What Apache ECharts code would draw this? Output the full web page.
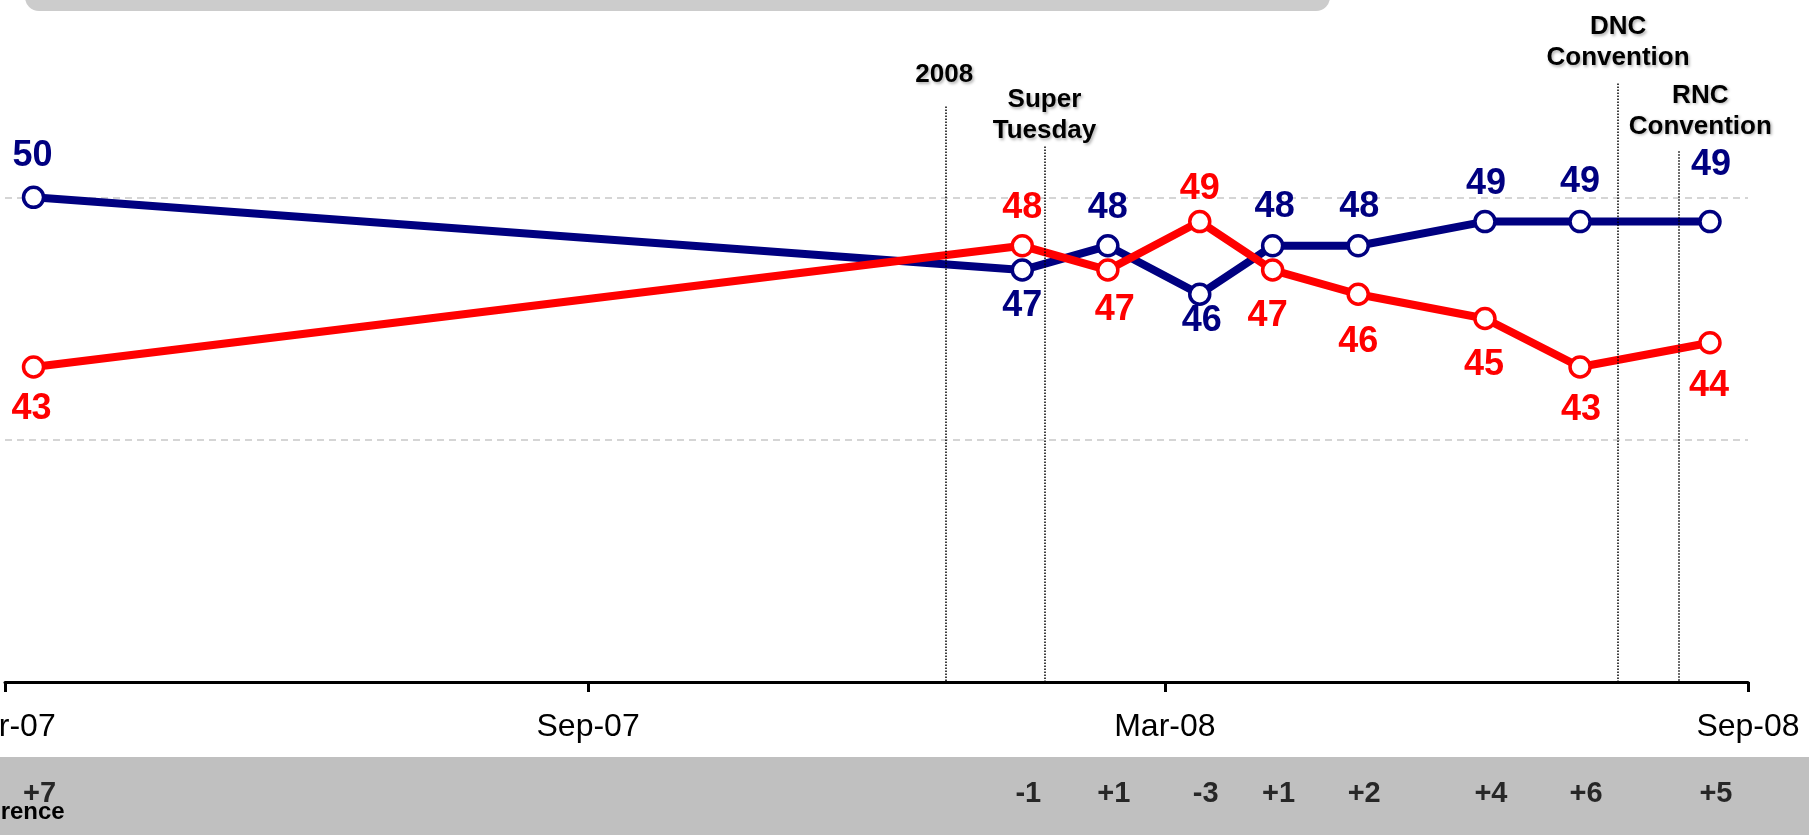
<!DOCTYPE html>
<html>
<head>
<meta charset="utf-8">
<script src="https://cdn.jsdelivr.net/npm/echarts@6/dist/echarts.min.js"></script>
<style>
html,body{margin:0;padding:0;background:#fff;}
#main{width:1809px;height:835px;}
</style>
</head>
<body>
<div id="main"></div>
<script>
// poll dates and the two shares (blue / red)
var pollDates = ['2007-03-10','2008-01-16','2008-02-12','2008-03-12','2008-04-04','2008-05-01','2008-06-10','2008-07-10','2008-08-20'];
var blueValues = [50,47,48,46,48,48,49,49,49];
var redValues = [43,48,47,49,47,46,45,43,44];

// x axis ticks
var tickDates = ['2007-03-01','2007-09-01','2008-03-01','2008-09-01'];
var tickLabels = ['Mar-07','Sep-07','Mar-08','Sep-08'];

// event markers
var eventDates = ['2007-12-23','2008-01-23','2008-07-22','2008-08-10'];
var eventNames = ['2008','Super\nTuesday','DNC\nConvention','RNC\nConvention'];

var FONT = '"Liberation Sans", Arial, sans-serif';

function ts(s){
	var p = s.split('-');
	return new Date(+p[0], p[1]-1, +p[2]).getTime();
}

var tickTimes = tickDates.map(ts);
var axisMin = tickTimes[0],
	axisMax = tickTimes[tickTimes.length-1];

// label placement around each point (px from the marker centre)
var blueNudge = [[-1,-41],[0,36],[0,-38],[2,27],[2,-39],[1,-39],[1,-37],[0,-39],[1,-56]];
var redNudge = [[-2,42],[0,-38],[7,40],[0,-32],[-5,46],[0,48],[-1,47],[1,43],[-1,43]];

// where each dotted event line starts (y value) and its label gap
var eventTop = [53.75, 52.1, 54.7, 51.9];
var eventGap = [16, 0, 10, 9];
var eventPad = [[0,4,0,0],[0,0,0,0],[0,0,0,0],[0,0,0,44]];

function seriesData(values, nudge){
	return pollDates.map(function(d, i){
		return {value: [ts(d), values[i]], label: {offset: nudge[i]}};
	});
}

function lineSeries(name, values, color, nudge){
	return {
		name: name,
		type: 'line',
		data: seriesData(values, nudge),
		symbol: 'circle',
		symbolSize: 20,
		lineStyle: {color: color, width: 8},
		itemStyle: {color: '#fff', borderColor: color, borderWidth: 3.5},
		label: {
			show: true,
			position: 'inside',
			color: color,
			fontSize: 36,
			fontWeight: 'bold',
			fontFamily: FONT,
			formatter: function(p){ return p.value[1]; }
		},
		emphasis: {disabled: true},
		animation: false
	};
}

var blue = lineSeries('blue', blueValues, '#000080', blueNudge);
var red = lineSeries('red', redValues, '#ff0000', redNudge);

blue.markLine = {
	silent: true,
	animation: false,
	symbol: ['none', 'none'],
	lineStyle: {type: 'dotted', color: '#000', width: 1.5},
	label: {
		position: 'start',
		color: '#000',
		fontSize: 26,
		lineHeight: 31,
		fontWeight: 'bold',
		fontFamily: FONT,
		textShadowColor: 'rgba(0,0,0,0.3)',
		textShadowBlur: 3,
		textShadowOffsetX: 1.5,
		textShadowOffsetY: 1.5
	},
	data: eventDates.map(function(d, i){
		return [
			{coord: [ts(d), eventTop[i]], label: {formatter: eventNames[i], distance: eventGap[i], padding: eventPad[i]}},
			{coord: [ts(d), 30]}
		];
	})
};

var diffSeries = {
	name: 'difference',
	type: 'scatter',
	xAxisIndex: 1,
	yAxisIndex: 1,
	data: pollDates.map(function(d){ return [ts(d), 0.5]; }),
	symbolSize: 1,
	itemStyle: {color: 'rgba(0,0,0,0)'},
	label: {
		show: true,
		position: 'inside',
		offset: [6, -2],
		color: '#000',
		fontSize: 29,
		fontWeight: 'bold',
		fontFamily: FONT,
		formatter: function(p){
			var v = blueValues[p.dataIndex] - redValues[p.dataIndex];
			return (v > 0 ? '+' : '') + v;
		}
	},
	emphasis: {disabled: true},
	animation: false
};

var chart = echarts.init(document.getElementById('main'));

chart.setOption({
	animation: false,
	grid: [
		{left: 5, right: 61, top: -45, bottom: 153, outerBoundsMode: 'none'},
		{left: 5, right: 61, top: 757, bottom: 0, outerBoundsMode: 'none'}
	],
	graphic: [
		{type: 'rect', z: -10, shape: {x: 0, y: 757, width: 1809, height: 78}, style: {fill: '#c0c0c0'}},
		{type: 'rect', z: -10, shape: {x: 25, y: -40, width: 1305, height: 51, r: 14}, style: {fill: '#cccccc'}},
		{type: 'text', x: 6, y: 812, style: {text: 'Difference', fill: '#000', fontSize: 24, fontWeight: 'bold', fontFamily: FONT, align: 'center', verticalAlign: 'middle'}}
	],
	xAxis: [
		{
			type: 'value',
			min: axisMin,
			max: axisMax,
			splitLine: {show: false},
			axisLine: {lineStyle: {color: '#000', width: 3}},
			axisTick: {show: true, customValues: tickTimes, length: 10, lineStyle: {color: '#000', width: 3}},
			axisLabel: {
				customValues: tickTimes,
				showMinLabel: true,
				showMaxLabel: true,
				margin: 29,
				color: '#000',
				fontSize: 32,
				fontFamily: FONT,
				formatter: function(v){
					var i = tickTimes.indexOf(v);
					return i >= 0 ? tickLabels[i] : '';
				}
			}
		},
		{type: 'value', gridIndex: 1, min: axisMin, max: axisMax, show: false}
	],
	yAxis: [
		{
			type: 'value',
			min: 30,
			max: 60,
			interval: 10,
			axisLine: {show: false},
			axisTick: {show: false},
			axisLabel: {show: false},
			splitLine: {lineStyle: {color: '#c8c8c8', type: [7, 5], width: 1.5}}
		},
		{type: 'value', gridIndex: 1, min: 0, max: 1, show: false}
	],
	series: [blue, red, diffSeries]
});
</script>
</body>
</html>
